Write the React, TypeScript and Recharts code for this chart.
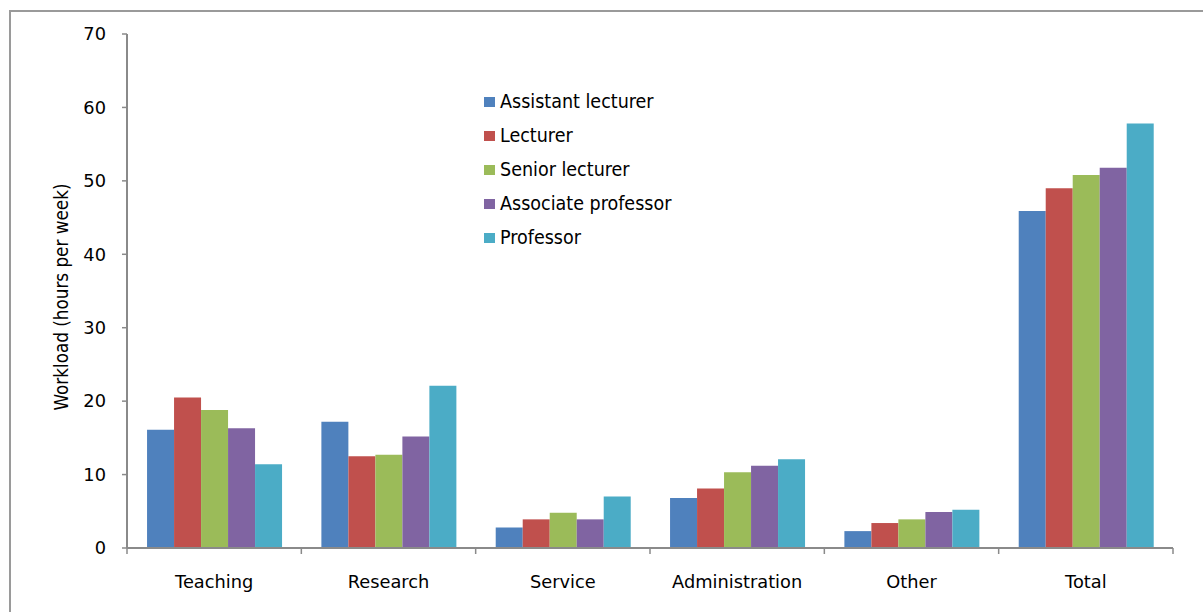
import { BarChart, Bar, XAxis, YAxis } from "recharts";

const categories = ["Teaching", "Research", "Service", "Administration", "Other", "Total"];
const assistantLecturer = [16.1, 17.2, 2.8, 6.8, 2.3, 45.9];
const lecturer = [20.5, 12.5, 3.9, 8.1, 3.4, 49.0];
const seniorLecturer = [18.8, 12.7, 4.8, 10.3, 3.9, 50.8];
const associateProfessor = [16.3, 15.2, 3.9, 11.2, 4.9, 51.8];
const professor = [11.4, 22.1, 7.0, 12.1, 5.2, 57.8];
const yTicks = [0, 10, 20, 30, 40, 50, 60, 70];

const series = [
  { key: "a", name: "Assistant lecturer", color: "#4F81BD", values: assistantLecturer },
  { key: "l", name: "Lecturer", color: "#C0504D", values: lecturer },
  { key: "s", name: "Senior lecturer", color: "#9BBB59", values: seniorLecturer },
  { key: "p", name: "Associate professor", color: "#8064A2", values: associateProfessor },
  { key: "f", name: "Professor", color: "#4BACC6", values: professor },
];

const data = categories.map((name, i) => {
  const row: Record<string, string | number> = { name };
  series.forEach((s) => (row[s.key] = s.values[i]));
  return row;
});

const FONT = "'DejaVu Sans Condensed', 'DejaVu Sans', sans-serif";
const TICK_FONT = "'DejaVu Sans', Verdana, sans-serif";
const AXIS = "#8a8a8a";

// category label plus tick marks on the band edges (Excel style)
const XTick = (props: any) => {
  const { x, y, payload, index, width, visibleTicksCount } = props;
  const bw = width / visibleTicksCount;
  const last = index === visibleTicksCount - 1;
  return (
    <g>
      <line x1={x - bw / 2} x2={x - bw / 2} y1={y} y2={y + 6} stroke={AXIS} strokeWidth={1.5} />
      {last && <line x1={x + bw / 2} x2={x + bw / 2} y1={y} y2={y + 6} stroke={AXIS} strokeWidth={1.5} />}
      <text x={x} y={y + 40} textAnchor="middle" fontSize={17.8} fontFamily={TICK_FONT} fill="#000">
        {payload.value}
      </text>
    </g>
  );
};

export default function App() {
  return (
    <div style={{ position: "absolute", left: 0, top: 0, width: 1203, height: 612, overflow: "hidden", background: "#fff" }}>
      <div
        style={{
          position: "absolute",
          left: 9,
          top: 10,
          width: 1300,
          height: 700,
          borderTop: "2px solid #9a9a9a",
          borderLeft: "2px solid #9a9a9a",
        }}
      />
      <BarChart
        width={1203}
        height={612}
        data={data}
        margin={{ top: 34, right: 30, left: 0, bottom: 0 }}
        barCategoryGap="11.5%"
        barGap={0}
        style={{ position: "absolute", left: 0, top: 0 }}
      >
        <XAxis
          dataKey="name"
          interval={0}
          height={64}
          tickSize={0}
          tickMargin={0}
          tickLine={false}
          tick={XTick}
          axisLine={{ stroke: AXIS, strokeWidth: 2 }}
        />
        <YAxis
          domain={[0, 70]}
          ticks={yTicks}
          interval={0}
          width={127}
          tickSize={5}
          tickMargin={16}
          tickLine={{ stroke: AXIS, strokeWidth: 1.5 }}
          axisLine={{ stroke: AXIS, strokeWidth: 2 }}
          tick={{ fontSize: 17.8, fontFamily: TICK_FONT, fill: "#000" }}
          label={{
            content: () => (
              <text
                x={61}
                y={297}
                transform="rotate(-90 61 297)"
                textAnchor="middle"
                dominantBaseline="central"
                fontSize={18.7}
                fontFamily={FONT}
                fill="#000"
              >
                Workload (hours per week)
              </text>
            ),
          }}
        />
        {series.map((s) => (
          <Bar
            key={s.key}
            dataKey={s.key}
            name={s.name}
            fill={s.color}
            isAnimationActive={false}
          />
        ))}
      </BarChart>
      <div style={{ position: "absolute", left: 484, top: 85, fontFamily: FONT, fontSize: 19.5, color: "#000" }}>
        {series.map((s) => (
          <div key={s.key} style={{ display: "flex", alignItems: "center", height: 33.8 }}>
            <span style={{ width: 11, height: 10, background: s.color, marginRight: 5, marginTop: 1 }} />
            <span>{s.name}</span>
          </div>
        ))}
      </div>
    </div>
  );
}
